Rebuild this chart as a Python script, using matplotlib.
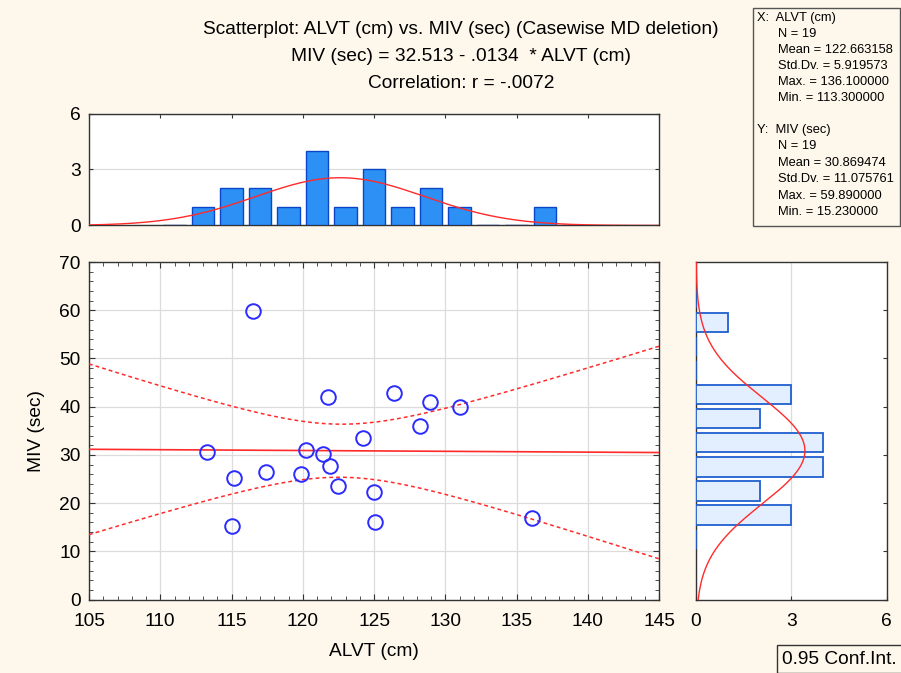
import numpy as np
import matplotlib
matplotlib.use("Agg")
import matplotlib.pyplot as plt
from matplotlib.patches import Rectangle
from matplotlib.ticker import MultipleLocator

# values
alvt = [113.3, 116.5, 121.8, 126.4, 128.9, 131.0, 128.2, 124.2, 120.2, 121.4,
        121.9, 117.4, 115.2, 119.9, 122.5, 125.0, 115.0, 125.1, 136.1]
miv = [30.5, 59.89, 42.1, 42.8, 41.0, 39.9, 35.9, 33.6, 31.1, 30.1,
       27.6, 26.5, 25.3, 26.0, 23.5, 22.2, 15.23, 16.1, 17.0]

x_bins = np.arange(110, 142, 2)
y_bins = np.arange(10, 70, 5)

title_lines = ["Scatterplot: ALVT (cm) vs. MIV (sec) (Casewise MD deletion)",
               "MIV (sec) = 32.513 - .0134  * ALVT (cm)",
               "Correlation: r = -.0072"]
stats_x = ["X:  ALVT (cm)", "N = 19", "Mean = 122.663158", "Std.Dv. = 5.919573",
           "Max. = 136.100000", "Min. = 113.300000"]
stats_y = ["Y:  MIV (sec)", "N = 19", "Mean = 30.869474", "Std.Dv. = 11.075761",
           "Max. = 59.890000", "Min. = 15.230000"]
t_crit = 2.1098  # t(0.975, df=17)

plt.rcParams['font.family'] = ['Liberation Sans', 'DejaVu Sans']
bg = '#fef8ec'
red = '#ff2a2a'
blue = '#2b2bff'
fs = 13.8

x = np.array(alvt)
y = np.array(miv)
n = len(x)

fig = plt.figure(figsize=(9.01, 6.73), dpi=100)
fig.patch.set_facecolor(bg)

W, H = 901.0, 673.0
def box(l, t, r, b):
    return [l / W, 1 - b / H, (r - l) / W, (b - t) / H]

ax = fig.add_axes(box(89, 262, 659, 599.5))
axt = fig.add_axes(box(89, 113.5, 659, 225.5))
axr = fig.add_axes(box(696, 262, 886.5, 599.5))

for a in (ax, axt, axr):
    a.set_facecolor('white')
    for s in a.spines.values():
        s.set_color('#333333')
        s.set_linewidth(1.0)

# scatter + regression
slope, icpt = np.polyfit(x, y, 1)
xs = np.linspace(105, 145, 200)
fit = icpt + slope * xs
resid = y - (icpt + slope * x)
s_err = np.sqrt(np.sum(resid ** 2) / (n - 2))
sxx = np.sum((x - x.mean()) ** 2)
half = t_crit * s_err * np.sqrt(1.0 / n + (xs - x.mean()) ** 2 / sxx)

ax.plot(xs, fit, color=red, lw=1.2, zorder=3)
ax.plot(xs, fit + half, color=red, lw=1.1, ls=(0, (2.5, 2)), zorder=3)
ax.plot(xs, fit - half, color=red, lw=1.1, ls=(0, (2.5, 2)), zorder=3)
ax.plot(x, y, 'o', mfc='none', mec=blue, mew=1.4, ms=10.5, zorder=4)

ax.set_xlim(105, 145)
ax.set_ylim(0, 70)
ax.xaxis.set_major_locator(MultipleLocator(5))
ax.xaxis.set_minor_locator(MultipleLocator(1))
ax.yaxis.set_major_locator(MultipleLocator(10))
ax.yaxis.set_minor_locator(MultipleLocator(2))
ax.grid(True, color='#dcdcdc', lw=0.9)
ax.set_axisbelow(True)
ax.tick_params(which='both', direction='in', top=True, right=True,
               labelsize=fs, color='#333333')
ax.tick_params(which='major', length=4)
ax.tick_params(which='minor', length=3)
ax.tick_params(axis='x', pad=9.5)
ax.tick_params(axis='y', pad=6)
ax.set_xlabel("ALVT (cm)", fontsize=fs)
ax.set_ylabel("MIV (sec)", fontsize=fs)
ax.xaxis.set_label_coords(0.5, -0.155)
ax.yaxis.set_label_coords(-0.092, 0.5)
ax.xaxis.label.set_va('center')
ax.yaxis.label.set_va('center')

# top histogram of ALVT
cx, _ = np.histogram(x, bins=x_bins)
centers = (x_bins[:-1] + x_bins[1:]) / 2
axt.bar(centers, cx, width=1.6, color='#2c90f4', edgecolor='#0b45c8', lw=1.0, zorder=3)
gx = np.linspace(105, 145, 300)
axt.plot(gx, n * 2 * np.exp(-0.5 * ((gx - x.mean()) / x.std(ddof=1)) ** 2)
         / (x.std(ddof=1) * np.sqrt(2 * np.pi)), color=red, lw=1.0, zorder=4)
axt.set_xlim(105, 145)
axt.set_ylim(0, 6)
axt.set_yticks([0, 3, 6])
axt.xaxis.set_major_locator(MultipleLocator(5))
axt.grid(True, axis='y', color='#dcdcdc', lw=0.9)
axt.set_axisbelow(True)
axt.tick_params(direction='in', top=True, right=True, bottom=False,
                labelbottom=False, labelsize=fs, length=3, color='#333333')
axt.tick_params(axis='y', pad=6)

# right histogram of MIV
cy, _ = np.histogram(y, bins=y_bins)
ycent = (y_bins[:-1] + y_bins[1:]) / 2
axr.barh(ycent, cy, height=4.0, color='#e3efff', edgecolor='#1f5fd0', lw=1.3, zorder=3)
gy = np.linspace(0, 70, 300)
axr.plot(n * 5 * np.exp(-0.5 * ((gy - y.mean()) / y.std(ddof=1)) ** 2)
         / (y.std(ddof=1) * np.sqrt(2 * np.pi)), gy, color=red, lw=1.0, zorder=4)
axr.set_xlim(0, 6)
axr.set_ylim(0, 70)
axr.set_xticks([0, 3, 6])
axr.yaxis.set_major_locator(MultipleLocator(10))
axr.grid(True, axis='x', color='#dcdcdc', lw=0.9)
axr.set_axisbelow(True)
axr.tick_params(direction='in', right=True, left=False, labelleft=False,
                labelsize=fs, length=3, color='#333333')
axr.tick_params(axis='x', pad=9.5)

# titles
for i, line in enumerate(title_lines):
    fig.text(461 / W, 1 - (30 + i * 26.5) / H, line, ha='center', va='center', fontsize=fs)

# stats box
fig.patches.append(Rectangle((753 / W, 1 - 226 / H), 147 / W, 218 / H,
                             transform=fig.transFigure, fill=False,
                             edgecolor='#555555', lw=1.0))
for block, y0, step in ((stats_x, 18, 16.0), (stats_y, 130, 16.4)):
    for i, line in enumerate(block):
        xpos = 757 if i == 0 else 778
        fig.text(xpos / W, 1 - (y0 + i * step) / H, line, ha='left', va='center', fontsize=9.3)

# conf int box
fig.patches.append(Rectangle((777 / W, 1 - 673 / H), 126 / W, 28 / H,
                             transform=fig.transFigure, fill=False,
                             edgecolor='#333333', lw=1.0))
fig.text(782 / W, 1 - 659 / H, "0.95 Conf.Int.", ha='left', va='center', fontsize=fs)

fig.savefig("out.png", dpi=100, facecolor=bg)
